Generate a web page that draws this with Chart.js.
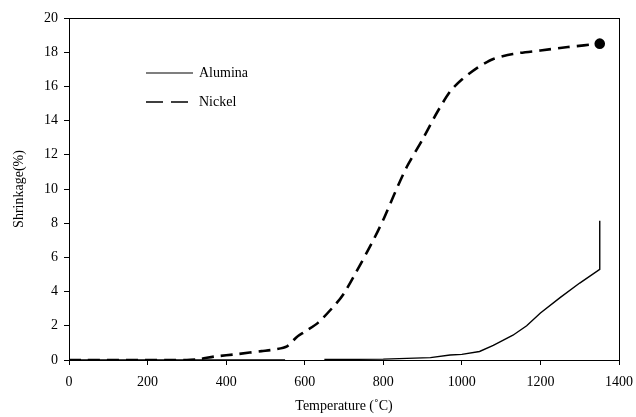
<!DOCTYPE html>
<html>
<head>
<meta charset="utf-8">
<script src="https://cdn.jsdelivr.net/npm/chart.js@4/dist/chart.umd.min.js"></script>
<style>
  body { margin: 0; background: #fff; }
  #box { width: 636px; height: 417px; }
</style>
</head>
<body>
<div id="box"><canvas id="chartShrinkage"></canvas></div>
<script>
// Temperatura (C) e retração (%) de cada material
var tempAlumina = [0, 550, 600, 650, 800, 920, 970, 1000, 1045, 1080, 1130, 1165, 1200, 1250, 1300, 1351, 1351];
var shrinkAlumina = [0, 0, null, 0.03, 0.05, 0.14, 0.29, 0.33, 0.5, 0.85, 1.45, 2.0, 2.75, 3.65, 4.5, 5.3, 8.15];

var tempNickel = [0, 300, 330, 370, 430, 490, 520, 555, 580, 600, 635, 680, 700, 730, 770, 800, 830, 860, 900, 935, 970, 1000, 1040, 1080, 1130, 1200, 1270, 1351];
var shrinkNickel = [0, 0, 0.05, 0.2, 0.35, 0.52, 0.6, 0.8, 1.35, 1.65, 2.2, 3.3, 3.9, 5.1, 6.8, 8.2, 9.8, 11.3, 12.9, 14.4, 15.7, 16.4, 17.1, 17.6, 17.9, 18.1, 18.3, 18.5];

var xTicks = [0, 200, 400, 600, 800, 1000, 1200, 1400];
var yTicks = [0, 2, 4, 6, 8, 10, 12, 14, 16, 18, 20];

function pontos(xs, ys) {
  var out = [];
  for (var i = 0; i < xs.length; i++) {
    out.push({ x: xs[i], y: ys[i] });
  }
  return out;
}

var fonte = "Liberation Serif";

// Moldura em volta da área do gráfico
var moldura = {
  id: "moldura",
  afterDraw: function (chart) {
    var a = chart.chartArea;
    var ctx = chart.ctx;
    ctx.save();
    ctx.strokeStyle = "#000";
    ctx.lineWidth = 1;
    ctx.strokeRect(Math.round(a.left) + 0.5, Math.round(a.top) + 0.5, Math.round(a.right - a.left), Math.round(a.bottom - a.top));
    ctx.restore();
  },
};

// Legenda dentro do gráfico
var legendaInterna = {
  id: "legendaInterna",
  afterDraw: function (chart) {
    var ctx = chart.ctx;
    var sets = chart.data.datasets;
    var x0 = 146, x1 = 193, y0 = 73, passo = 29;
    ctx.save();
    ctx.font = "14px '" + fonte + "'";
    ctx.fillStyle = "#000";
    ctx.textBaseline = "middle";
    for (var i = 0; i < sets.length; i++) {
      var y = y0 + i * passo;
      ctx.beginPath();
      ctx.strokeStyle = "#000";
      ctx.lineWidth = sets[i].legendWidth;
      ctx.setLineDash(sets[i].legendDash || []);
      ctx.moveTo(x0, y);
      ctx.lineTo(x1, y);
      ctx.stroke();
      ctx.setLineDash([]);
      ctx.fillText(sets[i].label, x1 + 6, y);
    }
    ctx.restore();
  },
};

var ctx = document.getElementById("chartShrinkage").getContext("2d");

new Chart(ctx, {
  type: "scatter",
  data: {
    datasets: [
      {
        label: "Alumina",
        data: pontos(tempAlumina, shrinkAlumina),
        showLine: true,
        spanGaps: false,
        borderColor: "#000",
        borderWidth: 1.4,
        legendWidth: 1.2,
        pointRadius: 0,
        tension: 0,
      },
      {
        label: "Nickel",
        data: pontos(tempNickel, shrinkNickel),
        showLine: true,
        borderColor: "#000",
        backgroundColor: "#000",
        borderWidth: 2.6,
        legendWidth: 1.4,
        borderDash: [12, 7],
        legendDash: [17, 8],
        pointRadius: function (c) {
          return c.dataIndex === tempNickel.length - 1 ? 4 : 0;
        },
        tension: 0.25,
      },
    ],
  },
  options: {
    responsive: true,
    maintainAspectRatio: false,
    animation: false,
    layout: { padding: { top: 18, right: 17, left: 0, bottom: 0 } },
    plugins: {
      legend: { display: false },
      tooltip: { enabled: false },
    },
    scales: {
      x: {
        type: "linear",
        min: 0,
        max: 1400,
        afterBuildTicks: function (axis) {
          axis.ticks = xTicks.map(function (v) { return { value: v }; });
        },
        afterFit: function (axis) {
          axis.height = 57;
          axis.paddingLeft = 0;
          axis.paddingRight = 0;
        },
        grid: { drawOnChartArea: false, drawTicks: true, tickLength: 5, color: "#000" },
        border: { color: "#000" },
        ticks: {
          color: "#000",
          font: { family: fonte, size: 14 },
          padding: 9,
          maxRotation: 0,
          callback: function (v) { return String(v); },
        },
        title: {
          display: true,
          text: "Temperature (\u02DAC)",
          color: "#000",
          font: { family: fonte, size: 14 },
          padding: { top: 6, bottom: 2 },
        },
      },
      y: {
        min: 0,
        max: 20,
        afterBuildTicks: function (axis) {
          axis.ticks = yTicks.map(function (v) { return { value: v }; });
        },
        afterFit: function (axis) {
          axis.width = 69;
          axis.paddingTop = 0;
          axis.paddingBottom = 0;
        },
        grid: { drawOnChartArea: false, drawTicks: true, tickLength: 5, color: "#000" },
        border: { color: "#000" },
        ticks: { color: "#000", font: { family: fonte, size: 14 }, padding: 6 },
        title: {
          display: true,
          text: "Shrinkage(%)",
          color: "#000",
          font: { family: fonte, size: 14 },
          padding: { top: 11, bottom: 0 },
        },
      },
    },
  },
  plugins: [moldura, legendaInterna],
});
</script>
</body>
</html>
